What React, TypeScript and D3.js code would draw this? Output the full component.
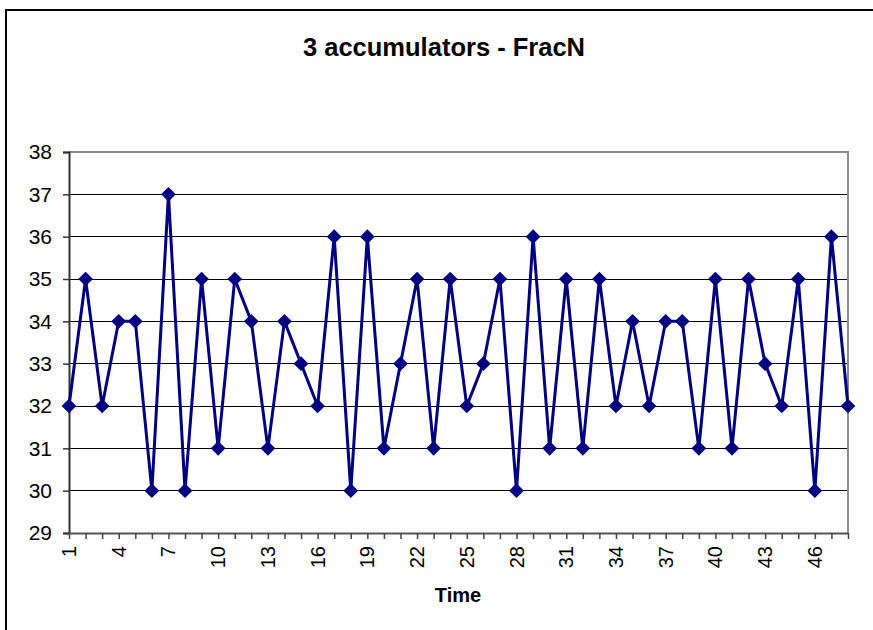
import { useEffect, useRef } from "react";
import * as d3 from "d3";

// Values, one per time step.
const times = d3.range(1, 49);
const values = [
  32, 35, 32, 34, 34, 30, 37, 30, 35, 31, 35, 34, 31, 34, 33, 32,
  36, 30, 36, 31, 33, 35, 31, 35, 32, 33, 35, 30, 36, 31, 35, 31,
  35, 32, 34, 32, 34, 34, 31, 35, 31, 35, 33, 32, 35, 30, 36, 32,
];
const yTicks = [29, 30, 31, 32, 33, 34, 35, 36, 37, 38];
const xLabels = times.filter((t) => (t - 1) % 3 === 0);

const title = "3 accumulators - FracN";
const xTitle = "Time";

export default function App() {
  const ref = useRef<SVGSVGElement>(null);

  useEffect(() => {
    if (!ref.current) return;
    const svg = d3.select(ref.current);
    svg.selectAll("*").remove();

    const width = 873;
    const height = 630;
    const plot = { left: 69, right: 848, top: 152, bottom: 533 };
    const font = "'Liberation Sans', Arial, sans-serif";
    const navy = "#000080";

    // chart area border (runs off the right and bottom of the picture)
    svg.append("rect")
      .attr("x", 6).attr("y", 10)
      .attr("width", width + 20).attr("height", height + 20)
      .attr("fill", "white")
      .attr("stroke", "black")
      .attr("stroke-width", 2);

    const x = d3.scaleLinear()
      .domain([1, 48])
      .range([plot.left, plot.right]);

    const y = d3.scaleLinear()
      .domain([29, 38])
      .range([plot.bottom, plot.top]);

    // title
    svg.append("text")
      .attr("x", 444).attr("y", 56)
      .attr("text-anchor", "middle")
      .attr("font-family", font)
      .attr("font-weight", "bold")
      .attr("font-size", 25.5)
      .text(title);

    // horizontal gridlines
    svg.append("g")
      .selectAll("line")
      .data(yTicks.filter((t) => t > 29 && t < 38))
      .join("line")
        .attr("x1", plot.left).attr("x2", plot.right)
        .attr("y1", (d) => y(d)).attr("y2", (d) => y(d))
        .attr("stroke", "#000")
        .attr("stroke-width", 1)
        .attr("shape-rendering", "crispEdges");

    // plot frame: top and right in grey
    svg.append("path")
      .attr("d", `M${plot.left},${plot.top}H${plot.right}V${plot.bottom}`)
      .attr("fill", "none")
      .attr("stroke", "#8c8c8c")
      .attr("stroke-width", 2);

    // y axis
    const yAxis = svg.append("g")
      .attr("transform", `translate(${plot.left},0)`)
      .call(d3.axisLeft(y).tickValues(yTicks).tickSize(6).tickPadding(11).tickFormat(d3.format("d")));
    yAxis.select(".domain").attr("stroke", "#333").attr("stroke-width", 2);
    yAxis.selectAll(".tick line").attr("stroke", "#333").attr("stroke-width", 1.5);
    yAxis.selectAll(".tick text")
      .attr("font-family", font)
      .attr("font-size", 21)
      .attr("fill", "#000");

    // x axis: a tick for every step, a label for every third
    const xAxis = svg.append("g")
      .attr("transform", `translate(0,${plot.bottom})`)
      .call(d3.axisBottom(x).tickValues(times).tickSize(6).tickSizeOuter(0).tickFormat(() => ""));
    xAxis.select(".domain").attr("stroke", "#555").attr("stroke-width", 2);
    xAxis.selectAll(".tick line").attr("stroke", "#444").attr("stroke-width", 1.5);

    svg.append("g")
      .selectAll("text")
      .data(xLabels)
      .join("text")
        .attr("transform", (d) => `translate(${x(d) + 7},${plot.bottom + 13}) rotate(-90)`)
        .attr("text-anchor", "end")
        .attr("font-family", font)
        .attr("font-size", 20)
        .text((d) => String(d));

    svg.append("text")
      .attr("x", 458).attr("y", 602)
      .attr("text-anchor", "middle")
      .attr("font-family", font)
      .attr("font-weight", "bold")
      .attr("font-size", 20)
      .text(xTitle);

    // series line
    const line = d3.line<number>()
      .x((_, i) => x(times[i]))
      .y((d) => y(d));

    svg.append("path")
      .datum(values)
      .attr("d", line)
      .attr("fill", "none")
      .attr("stroke", navy)
      .attr("stroke-width", 3)
      .attr("stroke-linejoin", "round");

    // diamond markers
    const diamond = d3.symbol().type(d3.symbolSquare).size(108);
    svg.append("g")
      .selectAll("path")
      .data(values)
      .join("path")
        .attr("d", diamond)
        .attr("transform", (d, i) => `translate(${x(times[i])},${y(d)}) rotate(45)`)
        .attr("fill", navy);
  }, []);

  return (
    <svg
      ref={ref}
      width={873}
      height={630}
      style={{ position: "absolute", left: 0, top: 0, background: "white" }}
    />
  );
}
